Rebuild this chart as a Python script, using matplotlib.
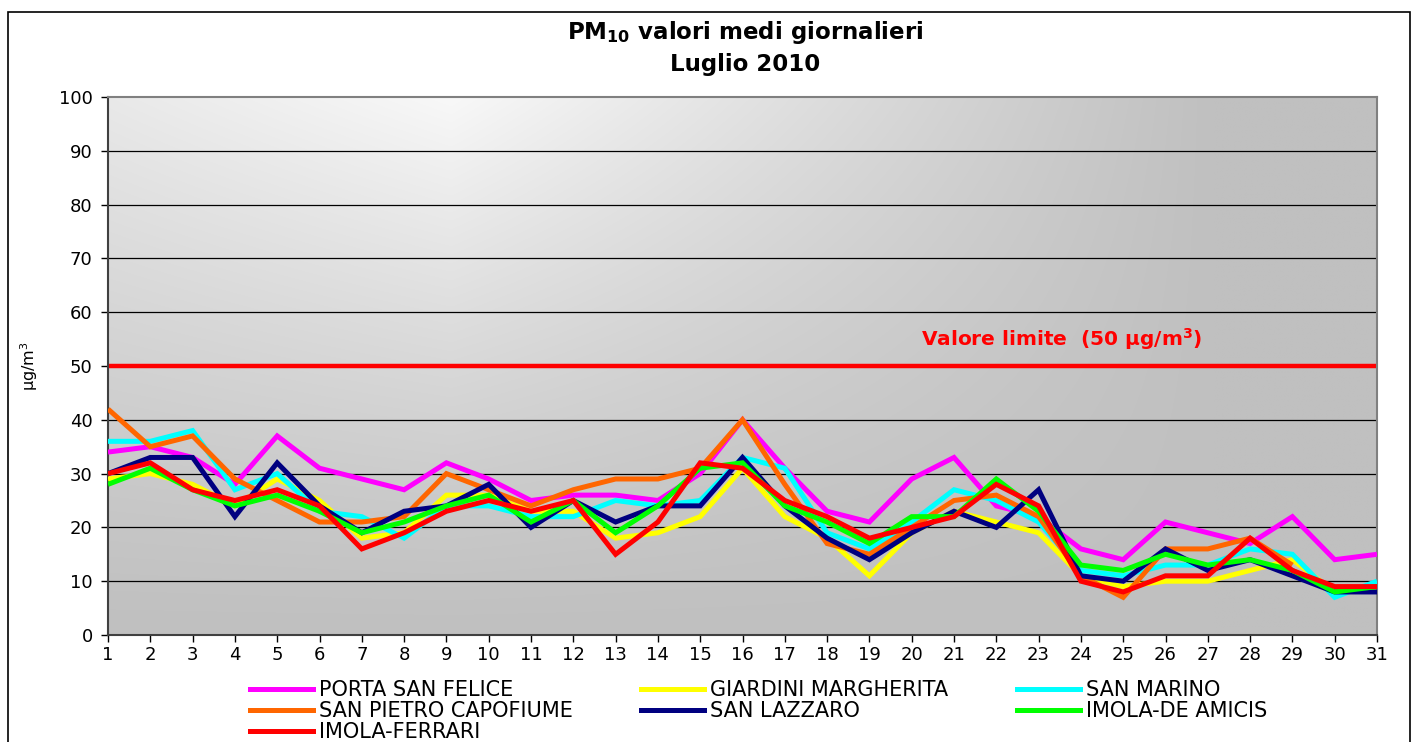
import numpy as np
import matplotlib
matplotlib.use("Agg")
import matplotlib.pyplot as plt
from matplotlib.lines import Line2D
from matplotlib.patches import Rectangle

days = list(range(1, 32))
nan = np.nan

porta_san_felice = [34, 35, 33, 28, 37, 31, 29, 27, 32, 29, 25, 26, 26, 25, 30, 40,
                    31, 23, 21, 29, 33, 24, 22, 16, 14, 21, 19, 17, 22, 14, 15]
giardini_margherita = [29, 30, 28, 24, 29, 25, 18, 19, 26, 26, 23, 23, 18, 19, 22, 31,
                       22, 18, 11, 19, 23, 21, 19, 11, 9, 10, 10, 12, 14, 8, 9]
san_marino = [36, 36, 38, 27, 30, 23, 22, 18, 24, 24, 22, 22, 25, 24, 25, 33,
              31, 19, 16, 21, 27, 25, 21, 12, 11, 13, 13, 16, 15, 7, 10]
san_pietro_capofiume = [42, 35, 37, 29, 25, 21, 21, 22, 30, 27, 24, 27, 29, 29, 31, 40,
                        28, 17, 15, 20, 25, 26, 22, 11, 7, 16, 16, 18, 13, nan, nan]
san_lazzaro = [30, 33, 33, 22, 32, 24, 19, 23, 24, 28, 20, 25, 21, 24, 24, 33,
               24, 18, 14, 19, 23, 20, 27, 11, 10, 16, 12, 14, 11, 8, 8]
imola_de_amicis = [28, 31, 27, 24, 26, 23, 19, 21, 24, 26, 21, 25, 19, 24, 31, 32,
                   24, 21, 17, 22, 22, 29, 23, 13, 12, 15, 13, 14, 12, 8, 9]
imola_ferrari = [30, 32, 27, 25, 27, 24, 16, 19, 23, 25, 23, 25, 15, 21, 32, 31,
                 25, 22, 18, 20, 22, 28, 24, 10, 8, 11, 11, 18, 12, 9, 9]

series_names = ["PORTA SAN FELICE", "GIARDINI MARGHERITA", "SAN MARINO",
                "SAN PIETRO CAPOFIUME", "SAN LAZZARO", "IMOLA-DE AMICIS", "IMOLA-FERRARI"]
series_values = [porta_san_felice, giardini_margherita, san_marino,
                 san_pietro_capofiume, san_lazzaro, imola_de_amicis, imola_ferrari]
series_colors = ["#FF00FF", "#FFFF00", "#00FFFF", "#FF6600", "#000080", "#00FF00", "#FF0000"]

limit_value = 50
y_ticks = list(range(0, 101, 10))

W, H = 1412, 742
fig = plt.figure(figsize=(W / 100, H / 100), dpi=100)
fig.patch.set_facecolor("white")

left, right, bottom, top = 108 / W, 1377 / W, 1 - 635 / H, 1 - 97 / H
ax = fig.add_axes([left, bottom, right - left, top - bottom])

# gradient background
nx, ny = 400, 200
xs = np.linspace(0, 1, nx)
ys = np.linspace(0, 1, ny)
X, Y = np.meshgrid(xs, ys)
g = np.where(X > 0.27, 1 - (X - 0.27) / 0.6, 1 - (0.27 - X) / 1.0)
g = np.clip(g, 0, 1)
b = (192 + 56 * g * Y ** 1.2) / 255.0
img = np.dstack([b, b, b])
ax.imshow(img, extent=[1, 31, 0, 100], origin="lower", aspect="auto", zorder=0,
          interpolation="bilinear")

ax.set_xlim(1, 31)
ax.set_ylim(0, 100)

for yv in y_ticks[1:-1]:
    ax.axhline(yv, color="black", lw=0.9, zorder=1)

ax.axhline(limit_value, color="#FF0000", lw=3.2, zorder=2)
ax.text(23.55, 55, "Valore limite  (50 µg/m$^\\mathregular{3}$)", color="#FF0000",
        fontsize=14.5, fontweight="bold", ha="center", va="center", zorder=5)

for name, vals, col in zip(series_names, series_values, series_colors):
    ax.plot(days, vals, color=col, lw=3.6, label=name, zorder=3,
            solid_joinstyle="miter", solid_capstyle="butt")

ax.set_xticks(days)
ax.set_xticklabels([str(d) for d in days])
ax.set_yticks(y_ticks)
ax.tick_params(axis="both", direction="out", length=5, width=1, colors="black",
               labelsize=13)
ax.tick_params(axis="y", pad=6)
ax.tick_params(axis="x", pad=3)
for s in ["left", "bottom"]:
    ax.spines[s].set_color("#404040")
    ax.spines[s].set_linewidth(1.5)
for s in ["top", "right"]:
    ax.spines[s].set_color("#808080")
    ax.spines[s].set_linewidth(1.5)

ax.set_ylabel("µg/m$^\\mathregular{3}$", fontsize=11.5)
ax.yaxis.set_label_coords(-0.0536, 0.5)

fig.text(745 / W, 1 - 33 / H, "PM$_\\mathregular{10}$ valori medi giornalieri", ha="center",
         va="center", fontsize=16.5, fontweight="bold")
fig.text(745 / W, 1 - 65 / H, "Luglio 2010", ha="center", va="center",
         fontsize=16.5, fontweight="bold")

handles = [Line2D([0], [0], color=c, lw=3.6) for c in series_colors]
order = [0, 3, 6, 1, 4, 2, 5]
leg = fig.legend([handles[i] for i in order], [series_names[i] for i in order],
                 ncol=3, loc="upper left", bbox_to_anchor=(250 / W, 1 - 680 / H),
                 frameon=False, fontsize=15, handlelength=3.0, handletextpad=0.3,
                 columnspacing=3.3, labelspacing=0.05, borderaxespad=0, borderpad=0)

fig.patches.append(Rectangle((8 / W, -0.1), (1410 - 8) / W, 1 - 12 / H + 0.1,
                             transform=fig.transFigure, fill=False, edgecolor="black",
                             lw=1.2, zorder=0))

fig.savefig("out.png", dpi=100)
